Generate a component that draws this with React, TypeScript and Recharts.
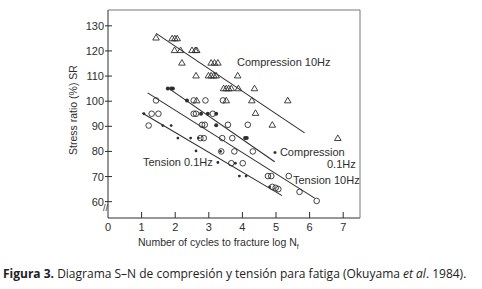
import React from "react"
import { ScatterChart, Scatter, XAxis, YAxis } from "recharts"

const INK = "#2e2e2e"
const FONT = "'Liberation Sans', Arial, sans-serif"

// tick labels
const xTicks = [0, 1, 2, 3, 4, 5, 6, 7]
const yTicks = [60, 70, 80, 90, 100, 110, 120, 130]

// Compression 10Hz (open triangles)
const comp10 = [
  { x: 1.43, y: 125.3 }, { x: 1.91, y: 125 }, { x: 1.99, y: 125 }, { x: 2.06, y: 125 },
  { x: 1.98, y: 120.3 }, { x: 2.16, y: 120.3 }, { x: 2.5, y: 120.3 }, { x: 2.6, y: 120.3 }, { x: 2.64, y: 120.3 },
  { x: 2.2, y: 115.3 }, { x: 3.07, y: 115.3 }, { x: 3.17, y: 115.3 }, { x: 3.27, y: 115.3 },
  { x: 2.62, y: 110.2 }, { x: 2.99, y: 110.2 }, { x: 3.07, y: 110.2 }, { x: 3.15, y: 110.2 }, { x: 3.22, y: 110.2 }, { x: 3.86, y: 110.2 },
  { x: 3.44, y: 105.1 }, { x: 3.52, y: 105.1 }, { x: 3.59, y: 105.1 }, { x: 3.67, y: 105.1 }, { x: 3.88, y: 105.1 }, { x: 4.36, y: 105.1 },
  { x: 2.64, y: 100.3 }, { x: 3.52, y: 100.3 }, { x: 4.28, y: 100.3 }, { x: 5.35, y: 100.3 },
  { x: 4.39, y: 95.3 }, { x: 4.89, y: 90.6 }, { x: 6.84, y: 85.3 },
]

// Compression 0.1Hz (filled)
const comp01 = [
  { x: 1.78, y: 105.1 }, { x: 1.88, y: 105.1 }, { x: 1.93, y: 105.1 },
  { x: 2.35, y: 100.3 }, { x: 2.77, y: 95 }, { x: 2.97, y: 95 }, { x: 3.22, y: 95 },
  { x: 3.22, y: 90.4 }, { x: 4.08, y: 85.3 }, { x: 4.13, y: 85.3 },
]

// Tension 10Hz (open circles)
const ten10 = [
  { x: 1.43, y: 100.3 }, { x: 2.55, y: 100.3 }, { x: 2.9, y: 100.3 }, { x: 3.42, y: 100.3 },
  { x: 1.3, y: 95 }, { x: 1.5, y: 95 }, { x: 2.55, y: 95 }, { x: 2.62, y: 95 }, { x: 3.12, y: 95 },
  { x: 1.21, y: 90.3 }, { x: 2.8, y: 90.6 }, { x: 2.88, y: 90.6 }, { x: 3.57, y: 90.6 }, { x: 4.16, y: 90.6 },
  { x: 2.75, y: 85.3 }, { x: 2.85, y: 85.3 }, { x: 3.4, y: 85.3 }, { x: 3.7, y: 85.3 },
  { x: 3.37, y: 80 }, { x: 3.76, y: 80 }, { x: 4.31, y: 80 },
  { x: 3.67, y: 75.3 }, { x: 4.01, y: 75.3 },
  { x: 4.76, y: 70.2 }, { x: 4.86, y: 70.2 }, { x: 5.38, y: 70.2 },
  { x: 4.89, y: 65.9 }, { x: 4.99, y: 65.5 }, { x: 5.07, y: 65 }, { x: 5.7, y: 63.9 }, { x: 6.21, y: 60.3 },
]

// Tension 0.1Hz (small dots)
const ten01 = [
  { x: 1.07, y: 95 }, { x: 1.63, y: 90.3 }, { x: 1.88, y: 90.3 },
  { x: 2.08, y: 85.3 }, { x: 2.46, y: 85.3 }, { x: 2.69, y: 85.3 },
  { x: 2.62, y: 80.2 }, { x: 3.35, y: 80 }, { x: 3.27, y: 75.6 }, { x: 3.79, y: 75.3 },
  { x: 3.91, y: 70.2 }, { x: 4.11, y: 70.2 }, { x: 4.81, y: 65.9 },
]

// fitted lines (end points)
const comp10Line = [{ x: 1.43, y: 127 }, { x: 5.85, y: 87.4 }]
const comp01Line = [{ x: 1.85, y: 104.7 }, { x: 4.96, y: 75.9 }]
const ten10Line = [{ x: 1.18, y: 103.3 }, { x: 6.15, y: 61.4 }]
const ten01Line = [{ x: 1.02, y: 95.3 }, { x: 5.18, y: 62.4 }]

const Tri = (p: any) => (
  <path
    d={`M${p.cx},${p.cy - 3.2}L${p.cx + 3.3},${p.cy + 2.4}L${p.cx - 3.3},${p.cy + 2.4}Z`}
    fill="none"
    stroke={INK}
    strokeWidth={0.9}
  />
)
const Ring = (p: any) => <circle cx={p.cx} cy={p.cy} r={2.8} fill="none" stroke={INK} strokeWidth={0.9} />
const Blob = (p: any) => <circle cx={p.cx} cy={p.cy} r={2} fill={INK} />
const Dot = (p: any) => <circle cx={p.cx} cy={p.cy} r={1.4} fill={INK} />
const NoMark = () => <g />

// x tick: mark points up into the plot, label below
const XTick = (p: any) => (
  <g>
    {p.payload.value !== 0 && <line x1={p.x} x2={p.x} y1={p.y} y2={p.y - 6} stroke={INK} />}
    <text x={p.x} y={p.y + 13} textAnchor="middle" fontSize={11} fontFamily={FONT} fill={INK}>
      {p.payload.value}
    </text>
  </g>
)

const YTick = (p: any) => (
  <g>
    <line x1={p.x - 3} x2={p.x + 4} y1={p.y} y2={p.y} stroke={INK} />
    <text x={p.x - 4} y={p.y + 4} textAnchor="end" fontSize={11} fontFamily={FONT} fill={INK}>
      {p.payload.value}
    </text>
  </g>
)

const note: React.CSSProperties = {
  position: "absolute",
  fontFamily: FONT,
  fontSize: 11,
  lineHeight: "12px",
  color: INK,
  whiteSpace: "nowrap",
}

export default function App() {
  return (
    <div style={{ position: "relative", width: 482, height: 289, background: "#fff" }}>
      <style>{"body{margin:0}"}</style>
      <ScatterChart width={482} height={250} margin={{ top: 9, right: 121, bottom: 31, left: 107 }}>
        <XAxis
          type="number"
          dataKey="x"
          domain={[0, 7.5]}
          ticks={xTicks}
          height={1}
          tickSize={0}
          tickMargin={0}
          tick={<XTick />}
          axisLine={{ stroke: INK }}
        />
        <XAxis xAxisId="top" orientation="top" type="number" dataKey="x" domain={[0, 7.5]} height={1} tick={false} tickLine={false} axisLine={{ stroke: "#777" }} />
        <YAxis
          type="number"
          dataKey="y"
          domain={[53.5, 136.3]}
          ticks={yTicks}
          width={1}
          tickSize={0}
          tickMargin={0}
          tick={<YTick />}
          axisLine={{ stroke: INK }}
        />
        <YAxis yAxisId="right" orientation="right" type="number" dataKey="y" domain={[53.5, 136.3]} width={1} tick={false} tickLine={false} axisLine={{ stroke: "#777" }} />
        <Scatter data={comp10Line} line={{ stroke: INK, strokeWidth: 1.1 }} shape={NoMark} isAnimationActive={false} />
        <Scatter data={comp01Line} line={{ stroke: INK, strokeWidth: 1.1 }} shape={NoMark} isAnimationActive={false} />
        <Scatter data={ten10Line} line={{ stroke: INK, strokeWidth: 1.1 }} shape={NoMark} isAnimationActive={false} />
        <Scatter data={ten01Line} line={{ stroke: INK, strokeWidth: 1.1 }} shape={NoMark} isAnimationActive={false} />
        <Scatter data={comp10} shape={Tri} isAnimationActive={false} />
        <Scatter data={ten10} shape={Ring} isAnimationActive={false} />
        <Scatter data={comp01} shape={Blob} isAnimationActive={false} />
        <Scatter data={ten01} shape={Dot} isAnimationActive={false} />
      </ScatterChart>

      <div style={{ ...note, left: 237, top: 56 }}>Compression 10Hz</div>
      <div style={{ ...note, left: 273, top: 146 }}>• Compression</div>
      <div style={{ ...note, left: 327, top: 158 }}>0.1Hz</div>
      <div style={{ ...note, left: 293, top: 174 }}>Tension 10Hz</div>
      <div style={{ ...note, left: 143, top: 156 }}>Tension 0.1Hz</div>
      <div style={{ ...note, left: 103, top: 202, fontSize: 9 }}>//</div>

      <div
        style={{
          ...note,
          fontSize: 10.5,
          left: 73,
          top: 110,
          transform: "translate(-50%, -50%) rotate(-90deg)",
        }}
      >
        Stress ratio (%) SR
      </div>
      <div style={{ ...note, fontSize: 10.5, left: 138, top: 236 }}>
        Number of cycles to fracture log N<sub style={{ fontSize: 7 }}>f</sub>
      </div>

      <div
        style={{
          position: "absolute",
          left: 3,
          top: 265,
          fontFamily: "'Open Sans', sans-serif",
          fontSize: 12,
          color: "#222",
          whiteSpace: "nowrap",
        }}
      >
        <b>Figura 3.</b> Diagrama S–N de compresión y tensión para fatiga (Okuyama <i>et al</i>. 1984).
      </div>
    </div>
  )
}
